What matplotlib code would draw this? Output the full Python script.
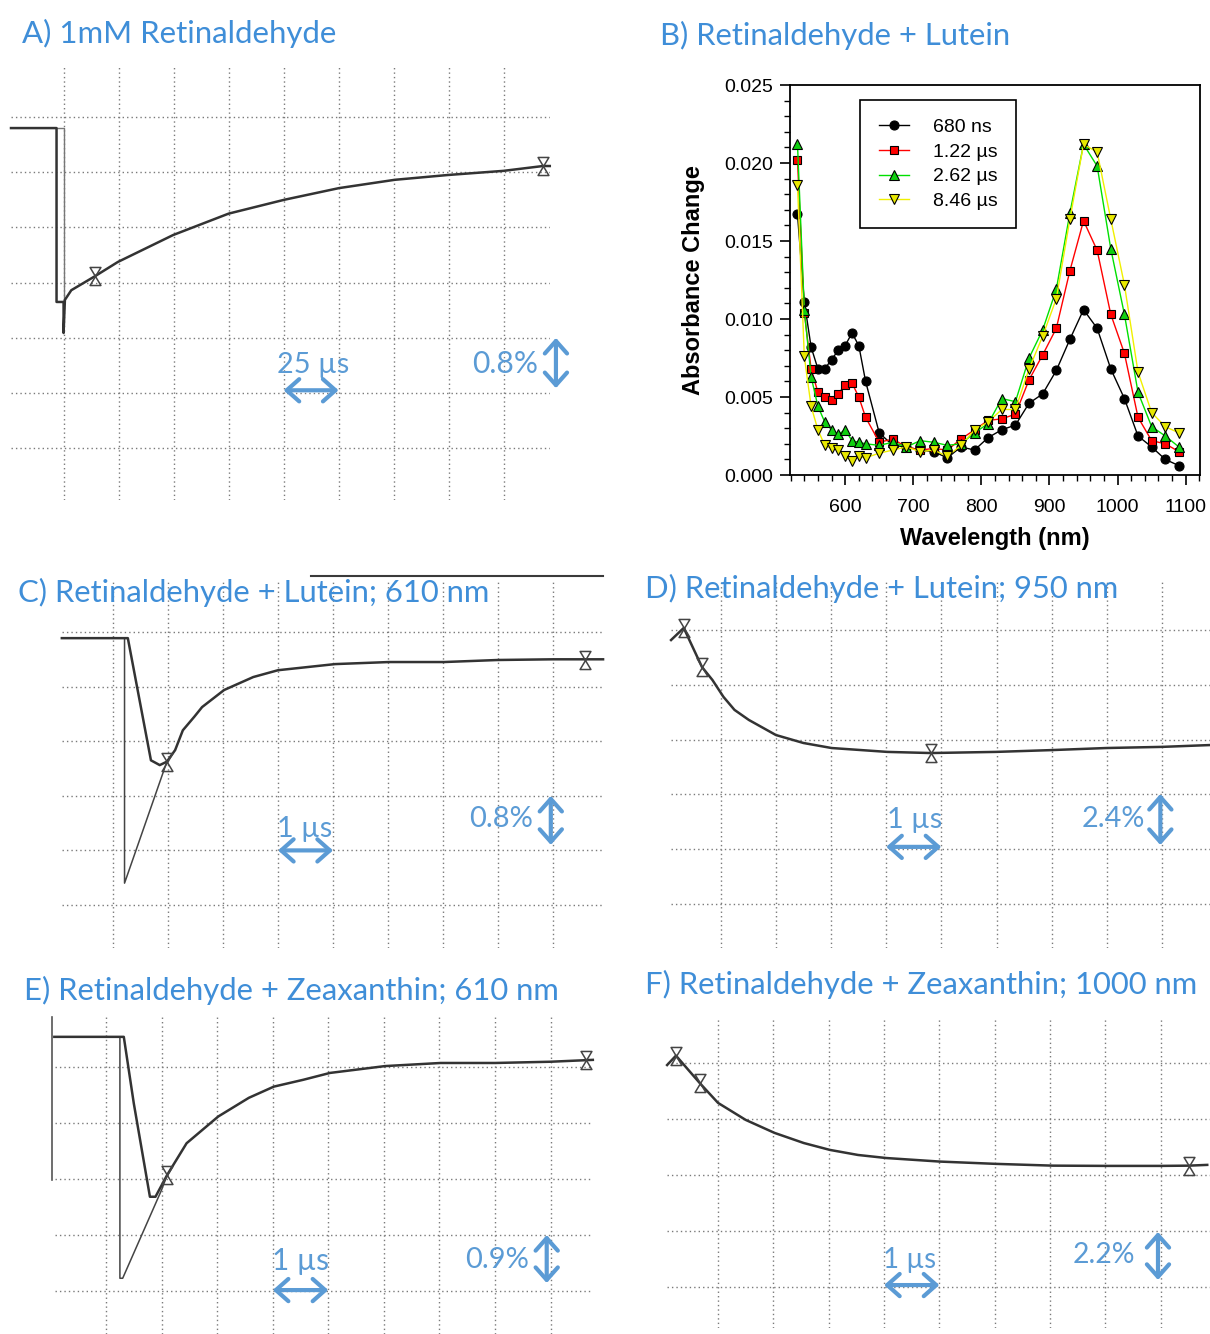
import numpy as np
import matplotlib
matplotlib.use("Agg")
import matplotlib.pyplot as plt
from matplotlib.path import Path
from matplotlib.lines import Line2D
from matplotlib.ticker import MultipleLocator, FormatStrFormatter

W, H, DPI = 1210, 1334, 100
plt.rcParams['font.family'] = ['Liberation Sans', 'DejaVu Sans']

# ---------------- Panel B: transient absorption spectra ----------------
wavelength_nm = [530, 540, 550, 560, 570, 580, 590, 600, 610, 620, 630,
                 650, 670, 690, 710, 730, 750, 770, 790, 810, 830, 850,
                 870, 890, 910, 930, 950, 970, 990, 1010, 1030, 1050, 1070, 1090]
abs_680ns = [0.0167, 0.0111, 0.0082, 0.0068, 0.0068, 0.0074, 0.0080, 0.0083, 0.0091, 0.0083, 0.0060,
             0.0027, 0.0019, 0.0018, 0.0016, 0.0015, 0.0011, 0.0018, 0.0016, 0.0024, 0.0029, 0.0032,
             0.0046, 0.0052, 0.0067, 0.0087, 0.0106, 0.0094, 0.0068, 0.0049, 0.0025, 0.0018, 0.0010, 0.0006]
abs_1p22us = [0.0202, 0.0104, 0.0068, 0.0053, 0.0050, 0.0048, 0.0052, 0.0058, 0.0059, 0.0050, 0.0037,
              0.0021, 0.0023, 0.0018, 0.0016, 0.0017, 0.0016, 0.0023, 0.0029, 0.0035, 0.0036, 0.0039,
              0.0061, 0.0077, 0.0094, 0.0131, 0.0163, 0.0144, 0.0103, 0.0078, 0.0037, 0.0022, 0.0020, 0.0015]
abs_2p62us = [0.0212, 0.0106, 0.0063, 0.0044, 0.0034, 0.0029, 0.0026, 0.0029, 0.0022, 0.0021, 0.0020,
              0.0019, 0.0021, 0.0018, 0.0022, 0.0021, 0.0019, 0.0020, 0.0027, 0.0033, 0.0049, 0.0047,
              0.0075, 0.0093, 0.0119, 0.0168, 0.0212, 0.0198, 0.0145, 0.0103, 0.0053, 0.0031, 0.0025, 0.0018]
abs_8p46us = [0.0186, 0.0076, 0.0044, 0.0029, 0.0019, 0.0017, 0.0016, 0.0012, 0.0009, 0.0012, 0.0011,
              0.0014, 0.0016, 0.0018, 0.0015, 0.0016, 0.0012, 0.0019, 0.0029, 0.0034, 0.0042, 0.0042,
              0.0068, 0.0089, 0.0113, 0.0164, 0.0212, 0.0207, 0.0164, 0.0122, 0.0066, 0.0040, 0.0031, 0.0027]
series_labels = ["680 ns", "1.22 µs", "2.62 µs", "8.46 µs"]

# ---------------- Oscilloscope traces (time, signal %) ----------------
# A) 1 mM retinaldehyde, 25 us/div, 0.8 %/div
a_time = [-23.9, -3.2, -3.2, 0.0, 0.0, 0.6, 3.5, 14.1, 24.7, 49.8, 75.0, 100.2, 125.2, 150.5, 174.7, 200.0, 217.9, 221.0]
a_signal = [-0.16, -0.16, -2.68, -2.68, -3.13, -2.65, -2.51, -2.31, -2.10, -1.71, -1.40, -1.20, -1.03, -0.91, -0.84, -0.78, -0.71, -0.71]
a_box_time = [-3.2, 0.0, 0.0]
a_box_signal = [-0.16, -0.16, -2.68]
a_cursor_time = [14.1, 217.9]
a_cursor_signal = [-2.31, -0.71]

# C) + lutein, 610 nm, 1 us/div, 0.8 %/div
c_time = [-0.93, 0.27, 0.69, 0.85, 0.98, 1.13, 1.27, 1.48, 1.62, 2.02, 2.55, 3.00, 4.04, 5.02, 6.02, 7.00, 8.00, 8.91]
c_signal = [-0.09, -0.09, -1.88, -1.95, -1.90, -1.73, -1.44, -1.24, -1.10, -0.85, -0.66, -0.56, -0.47, -0.44, -0.44, -0.41, -0.40, -0.40]
c_fast_time = [0.21, 0.21, 0.98]
c_fast_signal = [-0.09, -3.68, -1.90]
c_cursor_time = [0.98, 8.59]
c_cursor_signal = [-1.90, -0.41]

# D) + lutein, 950 nm, 1 us/div, 2.4 %/div
d_time = [-0.90, -0.67, -0.34, -0.15, 0.05, 0.25, 0.51, 1.00, 1.50, 2.01, 3.02, 3.81, 4.99, 6.01, 6.99, 8.00, 8.87]
d_signal = [-0.44, 0.09, -1.62, -2.19, -2.93, -3.50, -3.94, -4.60, -4.95, -5.17, -5.34, -5.39, -5.34, -5.26, -5.17, -5.12, -5.04]
d_cursor_time = [-0.67, -0.34, 3.81]
d_cursor_signal = [0.09, -1.62, -5.39]

# E) + zeaxanthin, 610 nm, 1 us/div, 0.9 %/div
e_time = [-0.93, 0.32, 0.50, 0.79, 0.89, 1.10, 1.45, 2.02, 2.57, 3.02, 3.55, 4.03, 5.02, 6.02, 7.00, 8.00, 8.76]
e_signal = [0.48, 0.48, -0.59, -2.09, -2.09, -1.74, -1.23, -0.80, -0.50, -0.32, -0.21, -0.10, 0.01, 0.06, 0.06, 0.08, 0.11]
e_fast_time = [0.25, 0.25, 0.30, 1.00, 1.10]
e_fast_signal = [0.48, -3.40, -3.40, -1.98, -1.74]
e_cursor_time = [1.10, 8.63]
e_cursor_signal = [-1.74, 0.11]

# F) + zeaxanthin, 1000 nm, 1 us/div, 2.2 %/div
f_time = [-0.92, -0.76, -0.33, 0.00, 0.50, 1.02, 1.55, 2.02, 2.53, 3.04, 4.01, 5.02, 6.05, 7.02, 8.00, 8.51, 8.84]
f_signal = [-0.08, 0.29, -0.79, -1.57, -2.24, -2.75, -3.15, -3.42, -3.62, -3.74, -3.88, -3.97, -4.04, -4.05, -4.05, -4.04, -4.01]
f_cursor_time = [-0.76, -0.33, 8.51]
f_cursor_signal = [0.29, -0.79, -4.04]

TITLE_C = '#3f8ed8'
ARROW_C = '#5b9bd5'
TRACE_C = '#333333'
TITLE_FONT = ['Lato', 'DejaVu Sans']

fig = plt.figure(figsize=(W / DPI, H / DPI), dpi=DPI)
renderer = fig.canvas.get_renderer()


def px_axes(x0, y0, x1, y1):
    return fig.add_axes([x0 / W, 1 - y1 / H, (x1 - x0) / W, (y1 - y0) / H])


def fit(t, target_w):
    bb = t.get_window_extent(renderer)
    t.set_fontsize(t.get_fontsize() * target_w / bb.width)
    return t


def title(x, y, s, w):
    t = fig.text(x / W, 1 - y / H, s, fontsize=20, color=TITLE_C, family=TITLE_FONT,
                 ha='left', va='baseline')
    fit(t, w)


hourglass = Path([(-0.6, 1), (0.6, 1), (-0.6, -1), (0.6, -1), (-0.6, 1)],
                 [Path.MOVETO, Path.LINETO, Path.LINETO, Path.LINETO, Path.CLOSEPOLY])


def scope(box, xlim, ylim, xgrid, ygrid):
    ax = px_axes(*box)
    ax.set_xlim(xlim)
    ax.set_ylim(ylim)
    ax.set_xticks(xgrid)
    ax.set_yticks(ygrid)
    ax.tick_params(length=0, labelbottom=False, labelleft=False)
    for sp in ax.spines.values():
        sp.set_visible(False)
    ax.grid(True, color='#7a7a7a', lw=1.0, ls=(0, (1, 2.2)))
    ax.patch.set_alpha(0)
    return ax


def dbl_arrow(ax, p0, p1):
    ax.annotate('', xy=p1, xytext=p0, xycoords='data', textcoords='data',
                annotation_clip=False,
                arrowprops=dict(arrowstyle='<->,head_length=0.45,head_width=0.4', color=ARROW_C,
                                lw=3, mutation_scale=20, shrinkA=0, shrinkB=0))


def label(ax, x, y, s, w, ha):
    t = ax.text(x, y, s, fontsize=20, color=ARROW_C, family=TITLE_FONT, ha=ha, va='baseline',
                clip_on=False)
    fit(t, w)


def trace(ax, t, s, lw=1.8, color=TRACE_C):
    ax.plot(t, s, color=color, lw=lw, solid_joinstyle='round', clip_on=False)


def cursors(ax, t, s):
    ax.plot(t, s, ls='none', marker=hourglass, ms=13, mfc='none', mec='#444444', mew=1.1,
            clip_on=False)


# ---------------- Panel A ----------------
axA = scope((11, 67, 550, 500), (-23.9, 221.1), (-5.55, 0.725),
            np.arange(0, 201, 25), -0.8 * np.arange(0, 7))
trace(axA, a_box_time, a_box_signal, lw=1.0, color='#777777')
trace(axA, a_time, a_signal)
cursors(axA, a_cursor_time, a_cursor_signal)
dbl_arrow(axA, (100, -3.96), (125, -3.96))
dbl_arrow(axA, (223.8, -3.2), (223.8, -3.93))
label(axA, 113.4, -3.71, '25 µs', 72, 'center')
label(axA, 215.6, -3.71, '0.8%', 66, 'right')
title(22, 43, 'A) 1mM Retinaldehyde', 315)

# ---------------- Panel C ----------------
axC = scope((62, 580, 603, 948), (-0.927, 8.909), (-4.63, 0.762),
            np.arange(0, 9), -0.8 * np.arange(0, 6))
trace(axC, c_fast_time, c_fast_signal, lw=1.1, color='#444444')
trace(axC, c_time, c_signal)
cursors(axC, c_cursor_time, c_cursor_signal)
dbl_arrow(axC, (3, -3.2), (4, -3.2))
dbl_arrow(axC, (7.96, -2.4), (7.96, -3.12))
label(axC, 3.49, -3.0, '1 µs', 55, 'center')
label(axC, 7.64, -2.85, '0.8%', 64, 'right')
title(18, 602, 'C) Retinaldehyde + Lutein; 610 nm', 474)
fig.add_artist(Line2D([311 / W, 603 / W], [1 - 576 / H, 1 - 576 / H], color='#3a3a3a', lw=1.5))

# ---------------- Panel D ----------------
axD = scope((671, 580, 1210, 948), (-0.901, 8.870), (-13.93, 2.19),
            np.arange(0, 9), -2.4 * np.arange(0, 6))
trace(axD, d_time, d_signal)
cursors(axD, d_cursor_time, d_cursor_signal)
dbl_arrow(axD, (3, -9.5), (4, -9.5))
dbl_arrow(axD, (7.97, -7.18), (7.97, -9.42))
label(axD, 3.51, -8.67, '1 µs', 55, 'center')
label(axD, 7.69, -8.62, '2.4%', 63, 'right')
title(645, 598, 'D) Retinaldehyde + Lutein; 950 nm', 475)

# ---------------- Panel E ----------------
axE = scope((54.5, 1017, 593, 1334), (-0.927, 8.763), (-4.296, 0.799),
            np.arange(0, 9), -0.9 * np.arange(0, 5))
trace(axE, e_fast_time, e_fast_signal, lw=1.1, color='#444444')
trace(axE, e_time, e_signal)
cursors(axE, e_cursor_time, e_cursor_signal)
dbl_arrow(axE, (3, -3.59), (4, -3.59))
dbl_arrow(axE, (7.93, -2.705), (7.93, -3.477))
label(axE, 3.5, -3.27, '1 µs', 57, 'center')
label(axE, 7.61, -3.24, '0.9%', 64, 'right')
title(24, 1000, 'E) Retinaldehyde + Zeaxanthin; 610 nm', 538)
fig.add_artist(Line2D([52 / W, 52 / W], [1 - 1017 / H, 1 - 1180 / H], color='#555555', lw=1.2))

# ---------------- Panel F ----------------
axF = scope((667, 1018, 1210, 1328), (-0.922, 8.89), (-10.43, 1.771),
            np.arange(0, 9), -2.2 * np.arange(0, 5))
trace(axF, f_time, f_signal)
cursors(axF, f_cursor_time, f_cursor_signal)
dbl_arrow(axF, (3, -8.74), (4, -8.74))
dbl_arrow(axF, (7.95, -6.65), (7.95, -8.54))
label(axF, 3.46, -8.07, '1 µs', 53, 'center')
label(axF, 7.53, -7.87, '2.2%', 62, 'right')
title(645, 994, 'F) Retinaldehyde + Zeaxanthin; 1000 nm', 555)

# ---------------- Panel B ----------------
axB = px_axes(790, 85, 1200, 475)
styles = [
    dict(color='black', marker='o', mfc='black', ms=6.5),
    dict(color='#ff0000', marker='s', mfc='#ff0000', ms=6),
    dict(color='#00e000', marker='^', mfc='#10d010', ms=7),
    dict(color='#f0f000', marker='v', mfc='#e8e800', ms=7),
]
for ys, lab, st in zip([abs_680ns, abs_1p22us, abs_2p62us, abs_8p46us], series_labels, styles):
    axB.plot(wavelength_nm, ys, lw=1.0, mec='black', mew=0.8, label=lab, **st)
axB.set_xlim(519, 1121)
axB.set_ylim(0, 0.025)
axB.xaxis.set_major_locator(MultipleLocator(100))
axB.xaxis.set_minor_locator(MultipleLocator(20))
axB.yaxis.set_major_locator(MultipleLocator(0.005))
axB.yaxis.set_minor_locator(MultipleLocator(0.001))
axB.yaxis.set_major_formatter(FormatStrFormatter('%.3f'))
axB.tick_params(which='both', direction='out', top=False, right=False, colors='black')
axB.tick_params(which='major', length=7, width=1.2, labelsize=14)
axB.tick_params(which='minor', length=4, width=1.0)
axB.tick_params(axis='x', which='major', pad=10)
axB.tick_params(axis='y', which='major', pad=5)
for sp in axB.spines.values():
    sp.set_linewidth(1.3)
axB.set_xlabel('Wavelength (nm)', fontsize=17, fontweight='bold', labelpad=8)
axB.set_ylabel('Absorbance Change', fontsize=17, fontweight='bold', labelpad=14)
leg = axB.legend(loc='upper left', bbox_to_anchor=(0.171, 0.9615), borderaxespad=0,
                 fontsize=14, frameon=True, fancybox=False, edgecolor='black', framealpha=1,
                 handlelength=1.55, handletextpad=1.25, labelspacing=0.36, borderpad=0.95)
leg.get_frame().set_linewidth(1.2)
title(660, 45, 'B) Retinaldehyde + Lutein', 352)

fig.savefig('out.png', dpi=DPI)
